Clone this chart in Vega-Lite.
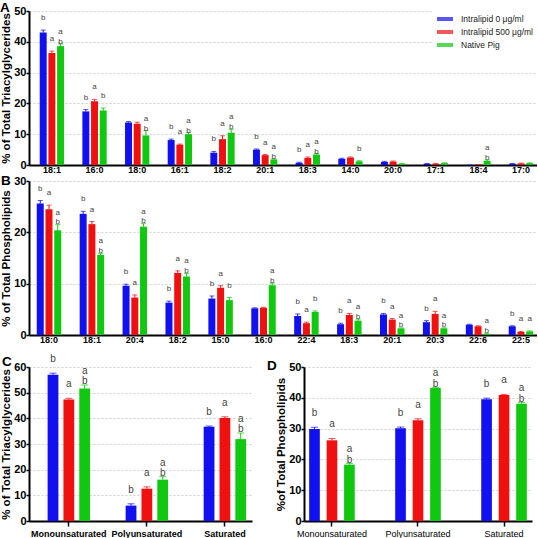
{
  "$schema": "https://vega.github.io/schema/vega-lite/v6.json",
  "padding": {"left": 0, "top": 0, "right": 0, "bottom": 0},
  "spacing": 10,
  "resolve": {"legend": {"color": "independent"}, "scale": {"xOffset": "independent"}},
  "datasets": {
    "A": [
      {"fa": "18:1", "g": "Intralipid 0 μg/ml", "v": 43.0, "hi": 43.8, "lab": "b"},
      {"fa": "18:1", "g": "Intralipid 500 μg/ml", "v": 36.4, "hi": 37.0, "lab": "a"},
      {"fa": "18:1", "g": "Native Pig", "v": 38.6, "hi": 39.3, "lab": "a\nb"},
      {"fa": "16:0", "g": "Intralipid 0 μg/ml", "v": 17.4, "hi": 18.0, "lab": "b"},
      {"fa": "16:0", "g": "Intralipid 500 μg/ml", "v": 20.7, "hi": 21.3, "lab": "a"},
      {"fa": "16:0", "g": "Native Pig", "v": 17.7, "hi": 18.5, "lab": "b"},
      {"fa": "18:0", "g": "Intralipid 0 μg/ml", "v": 13.8, "hi": 14.1, "lab": ""},
      {"fa": "18:0", "g": "Intralipid 500 μg/ml", "v": 13.4, "hi": 13.9, "lab": ""},
      {"fa": "18:0", "g": "Native Pig", "v": 9.6, "hi": 11.2, "lab": "a\nb"},
      {"fa": "16:1", "g": "Intralipid 0 μg/ml", "v": 8.1, "hi": 8.4, "lab": "b"},
      {"fa": "16:1", "g": "Intralipid 500 μg/ml", "v": 6.6, "hi": 6.8, "lab": "a"},
      {"fa": "16:1", "g": "Native Pig", "v": 10.0, "hi": 10.5, "lab": "a\nb"},
      {"fa": "18:2", "g": "Intralipid 0 μg/ml", "v": 4.0, "hi": 4.4, "lab": "b"},
      {"fa": "18:2", "g": "Intralipid 500 μg/ml", "v": 8.4, "hi": 9.5, "lab": "a"},
      {"fa": "18:2", "g": "Native Pig", "v": 10.5, "hi": 11.6, "lab": "a\nb"},
      {"fa": "20:1", "g": "Intralipid 0 μg/ml", "v": 5.0, "hi": 5.2, "lab": "b"},
      {"fa": "20:1", "g": "Intralipid 500 μg/ml", "v": 3.2, "hi": 3.4, "lab": "a"},
      {"fa": "20:1", "g": "Native Pig", "v": 1.8, "hi": 2.0, "lab": "a\nb"},
      {"fa": "18:3", "g": "Intralipid 0 μg/ml", "v": 0.7, "hi": 0.9, "lab": "b"},
      {"fa": "18:3", "g": "Intralipid 500 μg/ml", "v": 2.3, "hi": 2.6, "lab": "a"},
      {"fa": "18:3", "g": "Native Pig", "v": 3.4, "hi": 3.7, "lab": "a\nb"},
      {"fa": "14:0", "g": "Intralipid 0 μg/ml", "v": 2.0, "hi": 2.2, "lab": ""},
      {"fa": "14:0", "g": "Intralipid 500 μg/ml", "v": 2.4, "hi": 2.6, "lab": ""},
      {"fa": "14:0", "g": "Native Pig", "v": 1.2, "hi": 1.4, "lab": "b"},
      {"fa": "20:0", "g": "Intralipid 0 μg/ml", "v": 1.0, "hi": 1.2, "lab": ""},
      {"fa": "20:0", "g": "Intralipid 500 μg/ml", "v": 1.1, "hi": 1.3, "lab": ""},
      {"fa": "20:0", "g": "Native Pig", "v": 0.4, "hi": 0.5, "lab": ""},
      {"fa": "17:1", "g": "Intralipid 0 μg/ml", "v": 0.4, "hi": 0.5, "lab": ""},
      {"fa": "17:1", "g": "Intralipid 500 μg/ml", "v": 0.4, "hi": 0.5, "lab": ""},
      {"fa": "17:1", "g": "Native Pig", "v": 0.6, "hi": 0.7, "lab": ""},
      {"fa": "18:4", "g": "Intralipid 0 μg/ml", "v": 0.0, "hi": 0.0, "lab": ""},
      {"fa": "18:4", "g": "Intralipid 500 μg/ml", "v": 0.1, "hi": 0.1, "lab": ""},
      {"fa": "18:4", "g": "Native Pig", "v": 1.3, "hi": 1.6, "lab": "a\nb"},
      {"fa": "17:0", "g": "Intralipid 0 μg/ml", "v": 0.4, "hi": 0.5, "lab": ""},
      {"fa": "17:0", "g": "Intralipid 500 μg/ml", "v": 0.5, "hi": 0.6, "lab": ""},
      {"fa": "17:0", "g": "Native Pig", "v": 0.6, "hi": 0.7, "lab": ""}
    ],
    "B": [
      {"fa": "18:0", "g": "Intralipid 0 μg/ml", "v": 25.6, "hi": 26.2, "lab": "b"},
      {"fa": "18:0", "g": "Intralipid 500 μg/ml", "v": 24.5, "hi": 25.3, "lab": "a"},
      {"fa": "18:0", "g": "Native Pig", "v": 20.4, "hi": 21.5, "lab": "a\nb"},
      {"fa": "18:1", "g": "Intralipid 0 μg/ml", "v": 23.6, "hi": 24.1, "lab": "b"},
      {"fa": "18:1", "g": "Intralipid 500 μg/ml", "v": 21.6, "hi": 22.1, "lab": "a"},
      {"fa": "18:1", "g": "Native Pig", "v": 15.6, "hi": 15.9, "lab": "a\nb"},
      {"fa": "20:4", "g": "Intralipid 0 μg/ml", "v": 9.6, "hi": 9.9, "lab": "b"},
      {"fa": "20:4", "g": "Intralipid 500 μg/ml", "v": 7.3, "hi": 7.8, "lab": "a"},
      {"fa": "20:4", "g": "Native Pig", "v": 21.1, "hi": 21.7, "lab": "a\nb"},
      {"fa": "18:2", "g": "Intralipid 0 μg/ml", "v": 6.3, "hi": 6.6, "lab": "b"},
      {"fa": "18:2", "g": "Intralipid 500 μg/ml", "v": 12.1, "hi": 12.5, "lab": "a"},
      {"fa": "18:2", "g": "Native Pig", "v": 11.4, "hi": 12.0, "lab": "a\nb"},
      {"fa": "15:0", "g": "Intralipid 0 μg/ml", "v": 7.1, "hi": 7.6, "lab": "b"},
      {"fa": "15:0", "g": "Intralipid 500 μg/ml", "v": 9.2, "hi": 9.6, "lab": "a"},
      {"fa": "15:0", "g": "Native Pig", "v": 6.8, "hi": 7.3, "lab": "b"},
      {"fa": "16:0", "g": "Intralipid 0 μg/ml", "v": 5.2, "hi": 5.3, "lab": ""},
      {"fa": "16:0", "g": "Intralipid 500 μg/ml", "v": 5.3, "hi": 5.4, "lab": ""},
      {"fa": "16:0", "g": "Native Pig", "v": 9.7, "hi": 10.1, "lab": "a\nb"},
      {"fa": "22:4", "g": "Intralipid 0 μg/ml", "v": 3.7, "hi": 4.1, "lab": "b"},
      {"fa": "22:4", "g": "Intralipid 500 μg/ml", "v": 2.3, "hi": 2.5, "lab": "a"},
      {"fa": "22:4", "g": "Native Pig", "v": 4.5, "hi": 4.7, "lab": "b"},
      {"fa": "18:3", "g": "Intralipid 0 μg/ml", "v": 2.1, "hi": 2.3, "lab": "b"},
      {"fa": "18:3", "g": "Intralipid 500 μg/ml", "v": 3.9, "hi": 4.2, "lab": "a"},
      {"fa": "18:3", "g": "Native Pig", "v": 2.8, "hi": 3.1, "lab": "a\nb"},
      {"fa": "20:1", "g": "Intralipid 0 μg/ml", "v": 4.0, "hi": 4.2, "lab": "b"},
      {"fa": "20:1", "g": "Intralipid 500 μg/ml", "v": 3.0, "hi": 3.2, "lab": "a"},
      {"fa": "20:1", "g": "Native Pig", "v": 1.3, "hi": 1.4, "lab": "a\nb"},
      {"fa": "20:3", "g": "Intralipid 0 μg/ml", "v": 2.5, "hi": 2.8, "lab": "b"},
      {"fa": "20:3", "g": "Intralipid 500 μg/ml", "v": 4.1, "hi": 4.6, "lab": "a"},
      {"fa": "20:3", "g": "Native Pig", "v": 1.3, "hi": 1.4, "lab": "a\nb"},
      {"fa": "22:6", "g": "Intralipid 0 μg/ml", "v": 2.0, "hi": 2.1, "lab": ""},
      {"fa": "22:6", "g": "Intralipid 500 μg/ml", "v": 1.7, "hi": 1.8, "lab": ""},
      {"fa": "22:6", "g": "Native Pig", "v": 0.2, "hi": 0.3, "lab": "a\nb"},
      {"fa": "22:5", "g": "Intralipid 0 μg/ml", "v": 1.7, "hi": 1.8, "lab": "b"},
      {"fa": "22:5", "g": "Intralipid 500 μg/ml", "v": 0.6, "hi": 0.7, "lab": "a"},
      {"fa": "22:5", "g": "Native Pig", "v": 0.7, "hi": 0.8, "lab": "a"}
    ],
    "C": [
      {"fa": "Monounsaturated", "g": "Intralipid 0 μg/ml", "v": 57.0, "hi": 57.6, "lab": "b"},
      {"fa": "Monounsaturated", "g": "Intralipid 500 μg/ml", "v": 47.3, "hi": 47.8, "lab": "a"},
      {"fa": "Monounsaturated", "g": "Native Pig", "v": 51.6, "hi": 53.0, "lab": "a\nb"},
      {"fa": "Polyunsaturated", "g": "Intralipid 0 μg/ml", "v": 6.0, "hi": 6.7, "lab": "b"},
      {"fa": "Polyunsaturated", "g": "Intralipid 500 μg/ml", "v": 12.6, "hi": 13.3, "lab": "a"},
      {"fa": "Polyunsaturated", "g": "Native Pig", "v": 16.1, "hi": 17.3, "lab": "a\nb"},
      {"fa": "Saturated", "g": "Intralipid 0 μg/ml", "v": 36.7, "hi": 37.0, "lab": "b"},
      {"fa": "Saturated", "g": "Intralipid 500 μg/ml", "v": 40.1, "hi": 40.6, "lab": "a"},
      {"fa": "Saturated", "g": "Native Pig", "v": 31.9, "hi": 34.3, "lab": "a\nb"}
    ],
    "D": [
      {"fa": "Monounsaturated", "g": "Intralipid 0 μg/ml", "v": 29.9, "hi": 30.4, "lab": "b"},
      {"fa": "Monounsaturated", "g": "Intralipid 500 μg/ml", "v": 26.2, "hi": 26.8, "lab": "a"},
      {"fa": "Monounsaturated", "g": "Native Pig", "v": 18.3, "hi": 18.7, "lab": "a\nb"},
      {"fa": "Polyunsaturated", "g": "Intralipid 0 μg/ml", "v": 30.1, "hi": 30.5, "lab": "b"},
      {"fa": "Polyunsaturated", "g": "Intralipid 500 μg/ml", "v": 32.7, "hi": 33.2, "lab": "a"},
      {"fa": "Polyunsaturated", "g": "Native Pig", "v": 43.2, "hi": 43.4, "lab": "a\nb"},
      {"fa": "Saturated", "g": "Intralipid 0 μg/ml", "v": 39.5, "hi": 39.9, "lab": "b"},
      {"fa": "Saturated", "g": "Intralipid 500 μg/ml", "v": 40.9, "hi": 41.1, "lab": "a"},
      {"fa": "Saturated", "g": "Native Pig", "v": 38.1, "hi": 38.5, "lab": "a\nb"}
    ]
  },
  "vconcat": [
    {
      "vconcat": [
        {
          "data": {"name": "A"},
          "width": 508, "height": 154,
          "title": {"text": "A", "anchor": "start", "frame": "group", "dx": -29, "offset": -9, "fontSize": 13.5, "fontWeight": "bold", "color": "black"},
          "encoding": {
            "x": {"field": "fa", "type": "nominal", "sort": null, "scale": {"paddingInner": 0.43, "paddingOuter": 0.17, "align": 0.74}, "axis": {"title": null, "labelAngle": 0, "ticks": false, "tickSize": 0, "labelFontSize": 9, "labelFontWeight": "bold", "labelPadding": 0}},
            "xOffset": {"field": "g", "type": "nominal", "sort": ["Intralipid 0 μg/ml", "Intralipid 500 μg/ml", "Native Pig"], "scale": {"paddingInner": 0.2}},
            "color": {"field": "g", "type": "nominal", "scale": {"domain": ["Intralipid 0 μg/ml", "Intralipid 500 μg/ml", "Native Pig"], "range": ["#1010f0", "#f01010", "#10c810"]},
              "legend": {"title": null, "orient": "none", "legendX": 404, "legendY": -4, "symbolType": "M-1,-0.25H1V0.25H-1Z", "symbolSize": 256, "symbolStrokeWidth": 0, "labelFontSize": 8.5, "labelOffset": 8, "rowPadding": 0, "padding": 4, "fillColor": "white", "labelColor": "#222"}}
          },
          "layer": [
            {"mark": {"type": "bar"}, "encoding": {"y": {"field": "v", "type": "quantitative", "scale": {"domain": [0, 50]}, "axis": {"title": "% of Total Triacylglycerides", "values": [0, 10, 20, 30, 40, 50]}}}},
            {"mark": {"type": "rule", "strokeWidth": 1}, "encoding": {"y": {"field": "v", "type": "quantitative", "axis": {"title": "% of Total Triacylglycerides", "values": [0, 10, 20, 30, 40, 50]}}, "y2": {"field": "hi"}}},
            {"mark": {"type": "tick", "thickness": 1, "size": 5}, "encoding": {"y": {"field": "hi", "type": "quantitative", "axis": {"title": "% of Total Triacylglycerides", "values": [0, 10, 20, 30, 40, 50]}}}},
            {"mark": {"type": "text", "baseline": "bottom", "dy": -8, "fontSize": 8, "lineHeight": 10, "lineBreak": "\n"}, "encoding": {"y": {"field": "hi", "type": "quantitative", "axis": {"title": "% of Total Triacylglycerides", "values": [0, 10, 20, 30, 40, 50]}}, "text": {"field": "lab"}, "color": {"value": "#444"}}}
          ]
        },
        {
          "data": {"name": "B"},
          "width": 508, "height": 154,
          "title": {"text": "B", "anchor": "start", "frame": "group", "dx": -28, "offset": -12, "fontSize": 13.5, "fontWeight": "bold", "color": "black"},
          "encoding": {
            "x": {"field": "fa", "type": "nominal", "sort": null, "scale": {"paddingInner": 0.43, "paddingOuter": 0.135, "align": 0.67}, "axis": {"title": null, "labelAngle": 0, "ticks": false, "tickSize": 0, "labelFontSize": 9, "labelFontWeight": "bold", "labelPadding": 0}},
            "xOffset": {"field": "g", "type": "nominal", "sort": ["Intralipid 0 μg/ml", "Intralipid 500 μg/ml", "Native Pig"], "scale": {"paddingInner": 0.2}},
            "color": {"field": "g", "type": "nominal", "scale": {"domain": ["Intralipid 0 μg/ml", "Intralipid 500 μg/ml", "Native Pig"], "range": ["#1010f0", "#f01010", "#10c810"]}, "legend": null}
          },
          "layer": [
            {"mark": {"type": "bar"}, "encoding": {"y": {"field": "v", "type": "quantitative", "scale": {"domain": [0, 30]}, "axis": {"title": "% of Total Phospholipids", "values": [0, 10, 20, 30]}}}},
            {"mark": {"type": "rule", "strokeWidth": 1}, "encoding": {"y": {"field": "v", "type": "quantitative", "axis": {"title": "% of Total Phospholipids", "values": [0, 10, 20, 30]}}, "y2": {"field": "hi"}}},
            {"mark": {"type": "tick", "thickness": 1, "size": 5}, "encoding": {"y": {"field": "hi", "type": "quantitative", "axis": {"title": "% of Total Phospholipids", "values": [0, 10, 20, 30]}}}},
            {"mark": {"type": "text", "baseline": "bottom", "dy": -8, "fontSize": 8, "lineHeight": 9.5, "lineBreak": "\n"}, "encoding": {"y": {"field": "hi", "type": "quantitative", "axis": {"title": "% of Total Phospholipids", "values": [0, 10, 20, 30]}}, "text": {"field": "lab"}, "color": {"value": "#444"}}}
          ]
        }
      ],
      "spacing": -1,
      "resolve": {"legend": {"color": "independent"}, "scale": {"xOffset": "independent"}}
    },
    {
      "hconcat": [
        {
          "data": {"name": "C"},
          "width": 223, "height": 154,
          "title": {"text": "C", "anchor": "start", "frame": "group", "dx": -27, "offset": -14.5, "fontSize": 13.5, "fontWeight": "bold", "color": "black"},
          "encoding": {
            "x": {"field": "fa", "type": "nominal", "sort": null, "scale": {"paddingInner": 0.456, "paddingOuter": 0.157, "align": 0.76}, "axis": {"title": null, "labelAngle": 0, "ticks": true, "tickSize": 5, "labelFontSize": 9, "labelFontWeight": "bold", "labelPadding": 3}},
            "xOffset": {"field": "g", "type": "nominal", "sort": ["Intralipid 0 μg/ml", "Intralipid 500 μg/ml", "Native Pig"], "scale": {"paddingInner": 0.32}},
            "color": {"field": "g", "type": "nominal", "scale": {"domain": ["Intralipid 0 μg/ml", "Intralipid 500 μg/ml", "Native Pig"], "range": ["#1010f0", "#f01010", "#10c810"]}, "legend": null}
          },
          "layer": [
            {"mark": {"type": "bar"}, "encoding": {"y": {"field": "v", "type": "quantitative", "scale": {"domain": [0, 60]}, "axis": {"title": "% of Total Triacylglycerides", "values": [0, 10, 20, 30, 40, 50, 60]}}}},
            {"mark": {"type": "rule", "strokeWidth": 1}, "encoding": {"y": {"field": "v", "type": "quantitative", "axis": {"title": "% of Total Triacylglycerides", "values": [0, 10, 20, 30, 40, 50, 60]}}, "y2": {"field": "hi"}}},
            {"mark": {"type": "tick", "thickness": 1, "size": 7}, "encoding": {"y": {"field": "hi", "type": "quantitative", "axis": {"title": "% of Total Triacylglycerides", "values": [0, 10, 20, 30, 40, 50, 60]}}}},
            {"mark": {"type": "text", "baseline": "bottom", "dy": -9, "fontSize": 10, "lineHeight": 10.5, "lineBreak": "\n"}, "encoding": {"y": {"field": "hi", "type": "quantitative", "axis": {"title": "% of Total Triacylglycerides", "values": [0, 10, 20, 30, 40, 50, 60]}}, "text": {"field": "lab"}, "color": {"value": "#444"}}}
          ]
        },
        {
          "data": {"name": "D"},
          "width": 228, "height": 154,
          "title": {"text": "D", "anchor": "start", "frame": "group", "dx": -37, "offset": -11, "fontSize": 13.5, "fontWeight": "bold", "color": "black"},
          "encoding": {
            "x": {"field": "fa", "type": "nominal", "sort": null, "scale": {"paddingInner": 0.47, "paddingOuter": 0.06}, "axis": {"title": null, "labelAngle": 0, "ticks": true, "tickSize": 5, "labelFontSize": 9, "labelFontWeight": "normal", "labelPadding": 3}},
            "xOffset": {"field": "g", "type": "nominal", "sort": ["Intralipid 0 μg/ml", "Intralipid 500 μg/ml", "Native Pig"], "scale": {"paddingInner": 0.39}},
            "color": {"field": "g", "type": "nominal", "scale": {"domain": ["Intralipid 0 μg/ml", "Intralipid 500 μg/ml", "Native Pig"], "range": ["#1010f0", "#f01010", "#10c810"]}, "legend": null}
          },
          "layer": [
            {"mark": {"type": "bar"}, "encoding": {"y": {"field": "v", "type": "quantitative", "scale": {"domain": [0, 50]}, "axis": {"title": "%of Total Phospholipids", "values": [0, 10, 20, 30, 40, 50]}}}},
            {"mark": {"type": "rule", "strokeWidth": 1}, "encoding": {"y": {"field": "v", "type": "quantitative", "axis": {"title": "%of Total Phospholipids", "values": [0, 10, 20, 30, 40, 50]}}, "y2": {"field": "hi"}}},
            {"mark": {"type": "tick", "thickness": 1, "size": 7}, "encoding": {"y": {"field": "hi", "type": "quantitative", "axis": {"title": "%of Total Phospholipids", "values": [0, 10, 20, 30, 40, 50]}}}},
            {"mark": {"type": "text", "baseline": "bottom", "dy": -9, "fontSize": 10, "lineHeight": 10.5, "lineBreak": "\n"}, "encoding": {"y": {"field": "hi", "type": "quantitative", "axis": {"title": "%of Total Phospholipids", "values": [0, 10, 20, 30, 40, 50]}}, "text": {"field": "lab"}, "color": {"value": "#444"}}}
          ]
        }
      ],
      "spacing": 15,
      "resolve": {"legend": {"color": "independent"}, "scale": {"xOffset": "independent"}}
    }
  ],
  "config": {
    "view": {"stroke": null},
    "font": "Liberation Sans",
    "axis": {"domainColor": "black", "domainWidth": 2, "tickColor": "black", "tickWidth": 1.5, "labelColor": "black", "titleColor": "black", "gridColor": "#cfcfcf", "gridDash": [2, 2], "gridWidth": 1},
    "axisY": {"grid": true, "tickSize": 3, "labelPadding": 0, "labelOverlap": false, "labelFontWeight": "bold", "labelFontSize": 11, "titleFontWeight": "bold", "titleFontSize": 11.5, "titlePadding": 2},
    "axisX": {"grid": false}
  }
}
